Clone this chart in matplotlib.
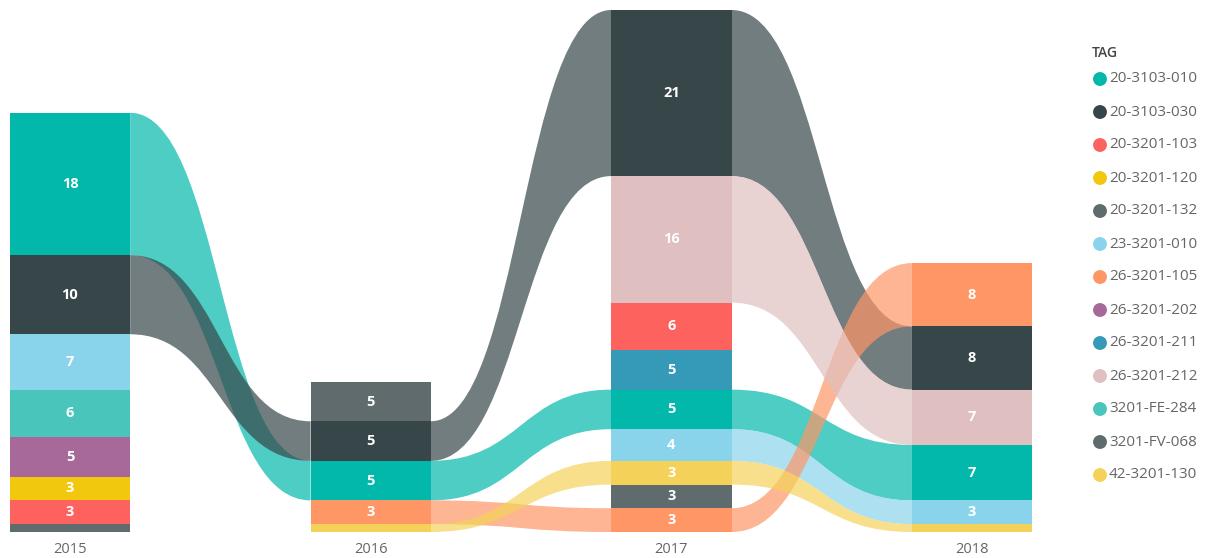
import matplotlib
matplotlib.use("Agg")
import matplotlib.pyplot as plt
from matplotlib.path import Path
from matplotlib.patches import PathPatch, Rectangle
from matplotlib.colors import to_rgba

plt.rcParams['font.family'] = ['Open Sans', 'DejaVu Sans']

years = ["2015", "2016", "2017", "2018"]
tags = ["20-3103-010", "20-3103-030", "20-3201-103", "20-3201-120", "20-3201-132",
        "23-3201-010", "26-3201-105", "26-3201-202", "26-3201-211", "26-3201-212",
        "3201-FE-284", "3201-FV-068", "42-3201-130"]
colors = ["#01B8AA", "#374649", "#FD625E", "#F2C80F", "#5F6B6D",
          "#8AD4EB", "#FE9666", "#A66999", "#3599B8", "#DFBFBF",
          "#4AC5BB", "#5F6B6D", "#F4D25A"]

# values per year, aligned with tags
values_2015 = [18, 10, 3, 3, 0, 7, 0, 5, 0, 0, 6, 1, 0]
values_2016 = [5, 5, 0, 0, 5, 0, 3, 0, 0, 0, 0, 0, 1]
values_2017 = [5, 21, 6, 0, 0, 4, 3, 0, 5, 16, 0, 3, 3]
values_2018 = [7, 8, 0, 0, 0, 3, 8, 0, 0, 7, 0, 0, 1]
values = [values_2015, values_2016, values_2017, values_2018]

W, H = 1210, 558
fig = plt.figure(figsize=(W / 100, H / 100), dpi=100)
px_per_x = 300.7
ax_w_px = 1060
ax = fig.add_axes([0, 26 / H, ax_w_px / W, 522 / H])
ax.set_xlim(-70 / px_per_x, (ax_w_px - 70) / px_per_x)
ax.set_ylim(0, 66)
for s in ax.spines.values():
    s.set_visible(False)
ax.set_yticks([])
ax.set_xticks(range(len(years)), years)
ax.tick_params(axis='x', length=0, pad=7, labelsize=10.5, labelcolor="#666666")

bw = 0.4

# stacked positions: largest on top, ties broken by tag descending
spans = []
for yi, vals in enumerate(values):
    order = sorted([i for i in range(len(tags)) if vals[i] > 0],
                   key=lambda i: (vals[i], tags[i]))
    pos = {}
    base = 0.0
    for i in order:
        pos[i] = (base, base + vals[i])
        base += vals[i]
    spans.append(pos)


def ribbon(x0, x1, a0, a1, b0, b1, color):
    xm = (x0 + x1) / 2
    verts = [(x0, a1), (xm, a1), (xm, b1), (x1, b1),
             (x1, b0), (xm, b0), (xm, a0), (x0, a0), (x0, a1)]
    codes = [Path.MOVETO, Path.CURVE4, Path.CURVE4, Path.CURVE4,
             Path.LINETO, Path.CURVE4, Path.CURVE4, Path.CURVE4, Path.CLOSEPOLY]
    ax.add_patch(PathPatch(Path(verts, codes), facecolor=to_rgba(color, 0.7),
                           edgecolor='none', zorder=1))


# ribbons between consecutive years
for yi in range(len(years) - 1):
    for i in range(len(tags)):
        if i in spans[yi] and i in spans[yi + 1]:
            a0, a1 = spans[yi][i]
            b0, b1 = spans[yi + 1][i]
            ribbon(yi + bw / 2, yi + 1 - bw / 2, a0, a1, b0, b1, colors[i])

# bars
for yi in range(len(years)):
    for i, (lo, hi) in spans[yi].items():
        ax.add_patch(Rectangle((yi - bw / 2, lo), bw, hi - lo,
                               facecolor=colors[i], edgecolor='none', zorder=2))
        if values[yi][i] >= 2:
            ax.text(yi, (lo + hi) / 2, str(values[yi][i]), color="white",
                    ha='center', va='center', fontsize=10.5, fontweight='bold', zorder=3)

# legend
lax = fig.add_axes([0, 0, 1, 1])
lax.set_xlim(0, W)
lax.set_ylim(H, 0)
lax.axis('off')
lax.text(1092, 53, "TAG", color="#444444", fontsize=10, fontweight='semibold',
         ha='left', va='center')
for k, t in enumerate(tags):
    yy = 79 + k * 33
    lax.scatter([1100], [yy], s=100, color=colors[k], edgecolors='none')
    lax.text(1109, yy, t, color="#666666", fontsize=11, ha='left', va='center')

fig.savefig("out.png", dpi=100)
